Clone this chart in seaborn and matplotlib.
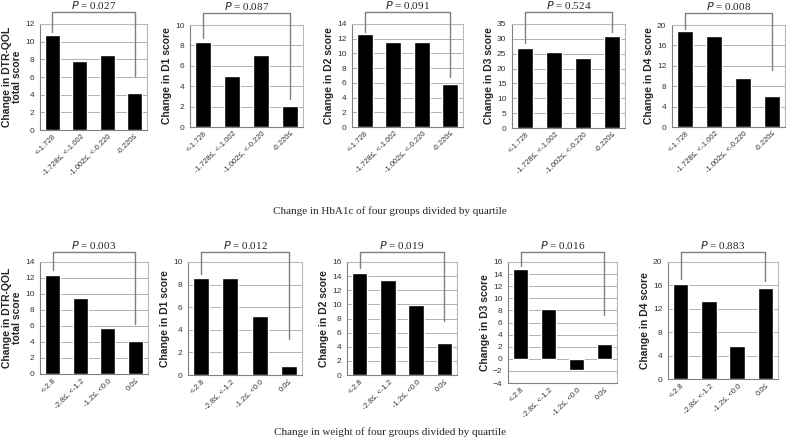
import numpy as np
import pandas as pd
import matplotlib
matplotlib.use("Agg")
import matplotlib.pyplot as plt
import seaborn as sns

sns.set_style("white")
plt.rcParams['font.family'] = ['Liberation Sans', 'DejaVu Sans']

# categories
hba1c_groups = ["<-1.728", "-1.728\u2264, <-1.002", "-1.002\u2264, <-0.220", "-0.220\u2264"]
weight_groups = ["<-2.8", "-2.8\u2264, <-1.2", "-1.2\u2264, <0.0", "0.0\u2264"]

ylabels = ["Change in DTR-QOL\ntotal score", "Change in D1 score", "Change in D2 score",
           "Change in D3 score", "Change in D4 score"]

# top row: HbA1c quartiles
hba1c_values = [
    [10.8, 7.8, 8.5, 4.2],
    [8.3, 5.0, 7.1, 2.1],
    [12.7, 11.6, 11.5, 5.8],
    [26.9, 25.6, 23.7, 31.1],
    [18.8, 17.9, 9.6, 6.0],
]
hba1c_p = ["0.027", "0.087", "0.091", "0.524", "0.008"]
hba1c_ylim = [(0, 12), (0, 10), (0, 14), (0, 35), (0, 20)]
hba1c_ystep = [2, 2, 2, 5, 4]
hba1c_bracket = [(11.1, 6.1), (8.7, 2.7), (12.95, 6.8), (28.5, 32.4), (19.2, 11.2)]

# bottom row: weight quartiles
weight_values = [
    [12.4, 9.5, 5.7, 4.1],
    [8.6, 8.6, 5.2, 0.8],
    [14.5, 13.5, 9.9, 4.6],
    [14.8, 8.3, -1.9, 2.4],
    [16.2, 13.3, 5.6, 15.5],
]
weight_p = ["0.003", "0.012", "0.019", "0.016", "0.883"]
weight_ylim = [(0, 14), (0, 10), (0, 16), (-4, 16), (0, 20)]
weight_ystep = [2, 2, 2, 2, 4]
weight_bracket = [(12.96, 6.3), (8.97, 3.2), (15.2, 7.6), (15.3, 7.2), (17.1, 16.8)]

W, H = 787, 442
fig = plt.figure(figsize=(W / 100, H / 100), dpi=100)

# axes boxes in pixels: left, right, top, bottom
top_boxes = [(40, 147, 24, 130), (190, 303, 25, 127), (352, 463, 24, 127),
             (512, 625, 24, 128), (672, 785, 25, 127)]
bottom_boxes = [(40, 148, 262, 374), (188, 302, 262, 375), (347, 457, 262, 375),
                (508, 617, 262, 383), (668, 778, 262, 379)]


def draw_panel(box, groups, values, ylabel, p, ylim, ystep, bracket, gap_px):
    l, r, t, b = box
    ax = fig.add_axes([l / W, 1 - b / H, (r - l) / W, (b - t) / H])
    df = pd.DataFrame({"group": groups, "value": values})
    sns.barplot(data=df, x="group", y="value", color="black", width=0.55,
                saturation=1, ax=ax, zorder=3)
    ax.set_ylim(*ylim)
    ax.set_yticks(np.arange(ylim[0], ylim[1] + 0.01, ystep))
    ax.yaxis.grid(True, color="#b0b0b0", linewidth=0.7, zorder=0)
    ax.set_axisbelow(True)
    for s in ax.spines.values():
        s.set_color("#b8b8b8")
        s.set_linewidth(0.8)
    ax.spines["left"].set_color("#808080")
    ax.spines["bottom"].set_color("#808080")
    ax.tick_params(axis="y", labelsize=6, colors="#333333", length=2, pad=2)
    ax.tick_params(axis="x", labelsize=5.5, colors="#333333", length=0, pad=2)
    for lab in ax.get_xticklabels():
        lab.set_rotation(45)
        lab.set_ha("right")
        lab.set_rotation_mode("anchor")
    ax.set_xlabel("")
    ax.set_ylabel(ylabel, fontsize=7.5, fontweight="bold", labelpad=2, linespacing=1.0)
    span = ylim[1] - ylim[0]
    per_px = span / (b - t)
    ytop = ylim[1] + gap_px * per_px
    ax.plot([0, 0, 3, 3], [bracket[0], ytop, ytop, bracket[1]], color="#7f7f7f",
            linewidth=1.0, clip_on=False, zorder=5)
    ax.text(1.5, ytop + 3 * per_px, f"$P$ = {p}", ha="center", va="baseline",
            fontsize=8, family="Liberation Serif", clip_on=False)
    return ax


for i in range(5):
    draw_panel(top_boxes[i], hba1c_groups, hba1c_values[i], ylabels[i], hba1c_p[i],
               hba1c_ylim[i], hba1c_ystep[i], hba1c_bracket[i], 12)
    draw_panel(bottom_boxes[i], weight_groups, weight_values[i], ylabels[i], weight_p[i],
               weight_ylim[i], weight_ystep[i], weight_bracket[i], 10)

fig.text(390 / W, 1 - 211 / H, "Change in HbA1c of four groups divided by quartile",
         ha="center", va="center", fontsize=8, family="Liberation Serif")
fig.text(390 / W, 1 - 432 / H, "Change in weight of four groups divided by quartile",
         ha="center", va="center", fontsize=8, family="Liberation Serif")

fig.savefig("out.png", dpi=100)
